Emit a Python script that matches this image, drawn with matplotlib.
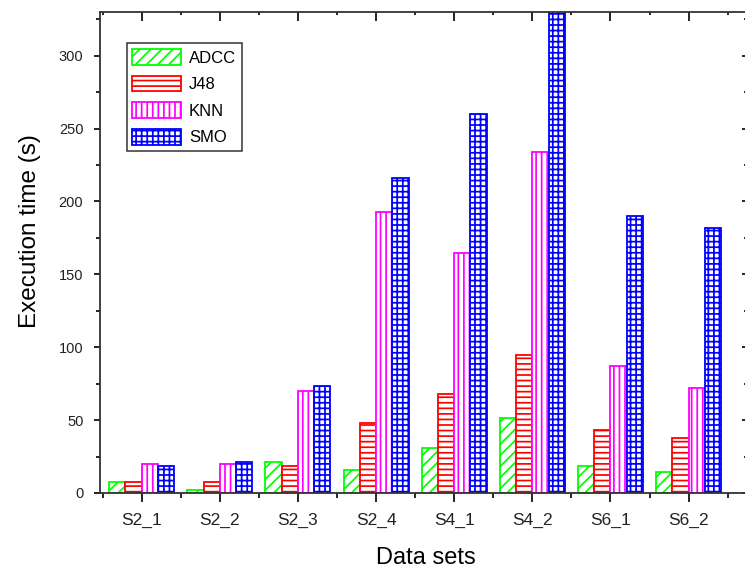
import matplotlib
matplotlib.use("Agg")
import matplotlib.pyplot as plt
import numpy as np
from matplotlib.ticker import MultipleLocator

plt.rcParams['font.family'] = ['Liberation Sans', 'DejaVu Sans']
plt.rcParams['hatch.linewidth'] = 1.25

categories = ["S2_1", "S2_2", "S2_3", "S2_4", "S4_1", "S4_2", "S6_1", "S6_2"]
series_names = ["ADCC", "J48", "KNN", "SMO"]
adcc = [7.7, 2.0, 21.5, 15.7, 30.6, 51.6, 18.5, 14.4]
j48 = [7.8, 7.7, 18.7, 47.7, 67.8, 94.5, 43.0, 37.5]
knn = [19.9, 20.0, 69.9, 192.7, 165.0, 233.8, 87.2, 72.0]
smo = [18.5, 21.5, 73.5, 216.0, 260.0, 335.0, 190.0, 181.7]

colors = ["#00ff00", "#ff0000", "#ff00ff", "#0000ff"]
hatches = ["///", "---", "|||", "+++"]

fig = plt.figure(figsize=(7.45, 5.72), dpi=100)
ax = fig.add_axes([100/745, 79/572, 648/745, 481/572])

x = np.arange(len(categories))
w = 0.208
for i, (name, vals) in enumerate(zip(series_names, [adcc, j48, knn, smo])):
    ax.bar(x + (i - 2) * w, vals, width=w, align='edge', facecolor='white',
           edgecolor=colors[i], hatch=hatches[i], linewidth=1.3, label=name)

ax.set_xlim(-0.533, 7.76)
ax.set_ylim(0, 330)
ax.set_xticks(x)
ax.set_xticklabels(categories, fontsize=12.5, color='#222222')
ax.xaxis.set_minor_locator(MultipleLocator(0.5))
ax.yaxis.set_major_locator(MultipleLocator(50))
ax.yaxis.set_minor_locator(MultipleLocator(25))
ax.tick_params(axis='y', labelsize=10.5, labelcolor='#222222')

ax.tick_params(axis='x', which='major', direction='out', length=6.5, width=1.2,
               top=True, pad=8)
ax.tick_params(axis='x', which='minor', direction='out', length=3.5, width=1.2, top=True)
ax.tick_params(axis='y', which='major', direction='out', length=4, width=1.2,
               right=True, pad=8)
ax.tick_params(axis='y', which='minor', direction='out', length=3, width=1.2, right=True)
# top and right ticks point inward
for t in ax.xaxis.get_major_ticks() + ax.xaxis.get_minor_ticks():
    t.tick2line.set_marker(matplotlib.lines.TICKDOWN)
for t in ax.yaxis.get_major_ticks() + ax.yaxis.get_minor_ticks():
    t.tick2line.set_marker(matplotlib.lines.TICKLEFT)
for t in ax.xaxis.get_major_ticks():
    t.tick2line.set_markersize(6.5)
for t in ax.xaxis.get_minor_ticks():
    t.tick2line.set_markersize(2.5)

for s in ax.spines.values():
    s.set_linewidth(1.3)
    s.set_color('#333333')

ax.set_xlabel("Data sets", fontsize=17)
ax.set_ylabel("Execution time (s)", fontsize=17.5)
ax.xaxis.set_label_coords(0.503, -0.135)
ax.xaxis.label.set_verticalalignment('center')
ax.yaxis.set_label_coords(-0.108, 0.5437)
ax.yaxis.label.set_verticalalignment('center')

leg = ax.legend(loc='upper left', bbox_to_anchor=(0.041, 0.935), fontsize=12,
                frameon=True, fancybox=False, handlelength=2.94, handleheight=1.08,
                labelspacing=0.6, borderpad=0.35, handletextpad=0.45,
                borderaxespad=0.0)
leg.get_frame().set_edgecolor('black')
leg.get_frame().set_linewidth(1.1)

fig.savefig("out.png", dpi=100)
